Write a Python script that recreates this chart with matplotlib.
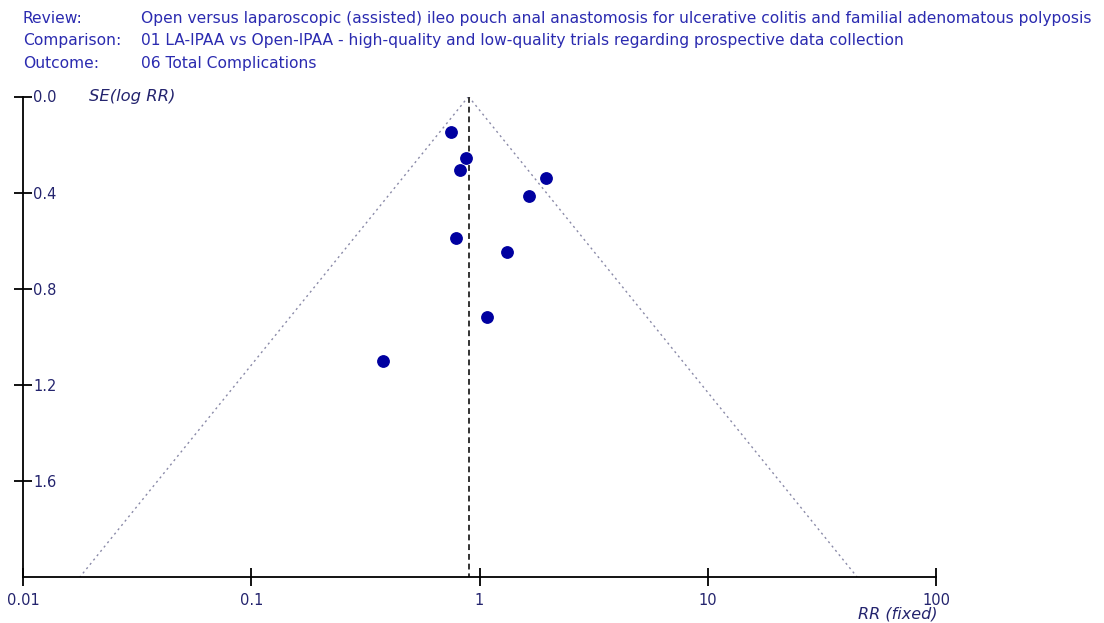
import numpy as np
import matplotlib

matplotlib.use("Agg")
import matplotlib.pyplot as plt

# study estimates
rr = [0.752, 0.871, 0.818, 1.956, 1.653, 0.791, 1.316, 1.080, 0.377]
se_log_rr = [0.147, 0.258, 0.304, 0.339, 0.414, 0.590, 0.646, 0.917, 1.101]
pooled_rr = 0.895

header_keys = ["Review:", "Comparison:", "Outcome:"]
header_values = [
    "Open versus laparoscopic (assisted) ileo pouch anal anastomosis for ulcerative colitis and familial adenomatous polyposis",
    "01 LA-IPAA vs Open-IPAA - high-quality and low-quality trials regarding prospective data collection",
    "06 Total Complications",
]
x_ticks = [0.01, 0.1, 1, 10, 100]
x_tick_labels = ["0.01", "0.1", "1", "10", "100"]
y_ticks = [0.0, 0.4, 0.8, 1.2, 1.6]

TEXT_BLUE = "#2b2bb0"
TICK_BLUE = "#24246e"
DOT_BLUE = "#0000a0"

plt.rcParams["font.family"] = ["DejaVu Sans"]

fig = plt.figure(figsize=(11.04, 6.23), dpi=100)
ax = fig.add_axes([23 / 1104, 1 - 577 / 623, 913 / 1104, 480.5 / 623])

# funnel (95% limits around the pooled estimate)
se_max = 2.0
se_line = np.array([0.0, se_max])
ax.plot(pooled_rr * np.exp(-1.96 * se_line), se_line, ls=(0, (1.5, 2.5)), color="#8a8aa8", lw=1.0)
ax.plot(pooled_rr * np.exp(1.96 * se_line), se_line, ls=(0, (1.5, 2.5)), color="#8a8aa8", lw=1.0)
ax.plot([pooled_rr, pooled_rr], [0, se_max], ls=(0, (3, 2)), color="#333333", lw=1.4)

ax.plot(rr, se_log_rr, "o", color=DOT_BLUE, markersize=8.2, zorder=3)

ax.set_xscale("log")
ax.set_xlim(0.01, 100)
ax.set_ylim(se_max, 0.0)
ax.set_xticks(x_ticks)
ax.set_xticklabels(x_tick_labels)
ax.minorticks_off()
ax.set_yticks(y_ticks)
ax.set_yticklabels([f"{v:.1f}" for v in y_ticks])

for side in ["top", "right"]:
    ax.spines[side].set_visible(False)
for side in ["left", "bottom"]:
    ax.spines[side].set_linewidth(1.3)

ax.tick_params(axis="both", direction="inout", length=13, width=1.3, labelsize=10.5, labelcolor=TICK_BLUE)
ax.tick_params(axis="x", pad=5)
ax.tick_params(axis="y", pad=-13.7)
for lbl in ax.get_yticklabels():
    lbl.set_horizontalalignment("left")
ax.patch.set_visible(False)

fig.text(89 / 1104, 1 - 97 / 623, "SE(log RR)", style="italic",
         fontsize=11.8, color=TICK_BLUE, ha="left", va="center")
fig.text(937 / 1104, 1 - 614 / 623, "RR (fixed)", style="italic",
         fontsize=11.5, color=TICK_BLUE, ha="right", va="center")

for i, (key, val) in enumerate(zip(header_keys, header_values)):
    y = 1 - (17 + 22.5 * i) / 623
    fig.text(23 / 1104, y, key, fontsize=11.2, color=TEXT_BLUE, ha="left", va="center_baseline")
    fig.text(141 / 1104, y, val, fontsize=11.2, color=TEXT_BLUE, ha="left", va="center_baseline")

fig.savefig("out.png", dpi=100)
